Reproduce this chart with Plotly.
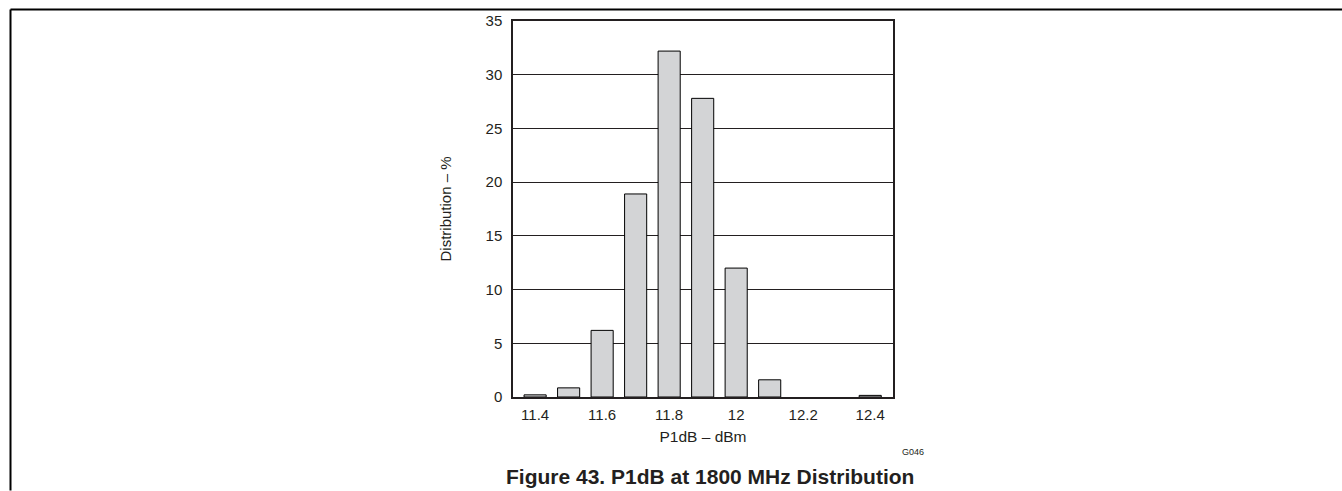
import plotly.graph_objects as go

# Data (None = empty bin, nothing drawn)
p1db_dbm = [11.4, 11.5, 11.6, 11.7, 11.8, 11.9, 12.0, 12.1, 12.2, 12.3, 12.4]
distribution_pct = [0.2, 0.85, 6.2, 18.9, 32.2, 27.8, 12.0, 1.6, None, None, 0.15]
x_tick_vals = [11.4, 11.6, 11.8, 12.0, 12.2, 12.4]
x_tick_text = ["11.4", "11.6", "11.8", "12", "12.2", "12.4"]
y_tick_vals = [0, 5, 10, 15, 20, 25, 30, 35]

W, H = 1342, 491
L, R, T, B = 513, 893, 19, 397
pw, ph = R - L, B - T

def px(x):
    return (x - L) / pw

def py(y):
    return (B - y) / ph

FONT = "Liberation Sans, Arial, sans-serif"

fig = go.Figure()
fig.add_trace(go.Bar(
    x=p1db_dbm, y=distribution_pct, width=0.066,
    marker=dict(color="#d3d4d6", line=dict(color="#000000", width=1)),
    hoverinfo="skip",
))

fig.update_layout(
    width=W, height=H,
    margin=dict(l=L, r=W - R, t=T, b=H - B, pad=0),
    paper_bgcolor="white", plot_bgcolor="white",
    showlegend=False,
    font=dict(family=FONT, size=15, color="#231f20"),
    xaxis=dict(
        range=[11.334, 12.468], tickvals=x_tick_vals, ticktext=x_tick_text,
        showgrid=False, zeroline=False, showline=True, linecolor="#231f20",
        linewidth=1.5, mirror=True, ticks="", ticklabelstandoff=3,
        tickfont=dict(size=15),
        title=dict(text="P1dB – dBm", font=dict(size=15.5), standoff=9),
    ),
    yaxis=dict(
        range=[0, 35], tickvals=y_tick_vals,
        showgrid=True, gridcolor="#231f20", gridwidth=1,
        zeroline=False, showline=True, linecolor="#231f20", linewidth=1.5,
        mirror=True, ticks="", ticklabelstandoff=6,
        tickfont=dict(size=15),
        title=dict(text="Distribution – %", font=dict(size=15), standoff=30),
    ),
    shapes=[
        dict(type="line", xref="paper", yref="paper",
             x0=px(10.5), x1=px(1342), y0=py(7.5), y1=py(7.5),
             line=dict(color="black", width=2)),
        dict(type="line", xref="paper", yref="paper",
             x0=px(10.5), x1=px(10.5), y0=py(7.5), y1=py(491),
             line=dict(color="black", width=2)),
    ],
    annotations=[
        dict(text="G046", xref="paper", yref="paper", x=px(913), y=py(452),
             showarrow=False, font=dict(size=9, family=FONT, color="#231f20"),
             xanchor="center", yanchor="middle"),
        dict(text="<b>Figure 43. P1dB at 1800 MHz Distribution</b>",
             xref="paper", yref="paper", x=px(710), y=py(477),
             showarrow=False, font=dict(size=21, family=FONT, color="#231f20"),
             xanchor="center", yanchor="middle"),
    ],
)

fig.write_html(
    "out.html",
    config={"displayModeBar": False},
    post_script="document.body.style.margin='0';document.body.style.padding='0';",
)
